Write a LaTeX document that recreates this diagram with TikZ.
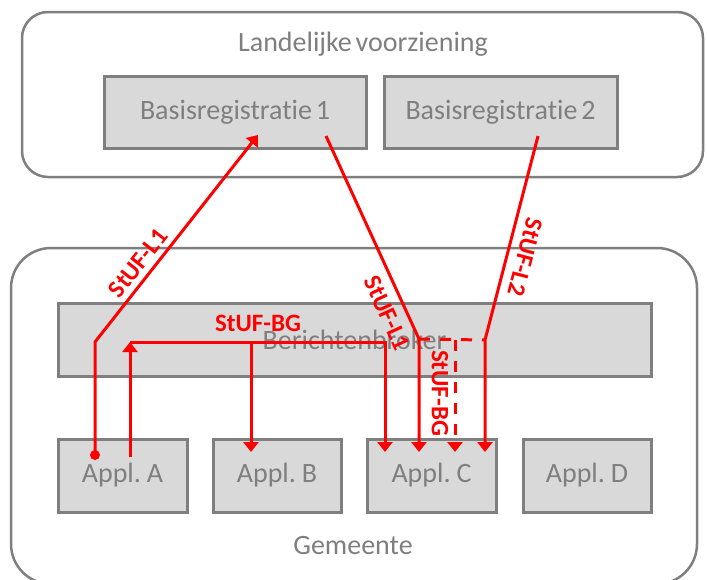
\documentclass[tikz,border=0pt]{standalone}
\usepackage{fontspec}
\setmainfont{Carlito}[Ligatures=NoCommon, WordSpace=0.6]
\usetikzlibrary{arrows.meta}
\definecolor{boxgray}{HTML}{7F7F7F}
\definecolor{boxfill}{HTML}{D9D9D9}
\definecolor{txtgray}{HTML}{7F7F7F}
\definecolor{msgred}{HTML}{FF0000}
\begin{document}
\begin{tikzpicture}[x=1pt,y=-1pt,
  outerbox/.style={draw=boxgray, line width=2.5pt, fill=white, inner sep=0pt},
  sysbox/.style={draw=boxgray, line width=3pt, fill=boxfill, inner sep=0pt,
     text=txtgray, font=\fontsize{28pt}{32pt}\selectfont},
  title/.style={text=txtgray, font=\fontsize{28pt}{32pt}\selectfont, inner sep=0pt},
  msg/.style={draw=msgred, line width=3pt, line join=miter},
  msgarrow/.style={msg, -{Triangle[width=15pt,length=10pt]}},
  msgdash/.style={msg, dash pattern=on 11pt off 10pt},
  msglabel/.style={text=msgred, font=\bfseries\fontsize{25pt}{28pt}\selectfont, inner sep=0pt}
]
\useasboundingbox (0,0) rectangle (707,579);
\clip (0,0) rectangle (707,579);

% outer containers
\node[outerbox, rounded corners=26pt, minimum width=681pt, minimum height=165pt] (lv) at (362.5,94.5) {};
\node[outerbox, rounded corners=40pt, minimum width=686pt, minimum height=336pt] (gm) at (354,416) {};
\node[title] (lvt) at (363,44) {Landelijke voorziening};
\node[title] (gmt) at (353,546) {Gemeente};

% systems
\node[sysbox, minimum width=262pt, minimum height=72pt] (br1) at (235,112) {Basisregistratie 1};
\node[sysbox, minimum width=233pt, minimum height=72pt] (br2) at (500.5,112) {Basisregistratie 2};
\node[sysbox, minimum width=593pt, minimum height=73pt] (bb) at (354.5,339.5) {Berichtenbroker};
\node[sysbox, minimum width=129pt, minimum height=73pt] (aa) at (122.5,475.5) {Appl. A};
\node[sysbox, minimum width=128pt, minimum height=73pt] (ab) at (277,475.5) {Appl. B};
\node[sysbox, minimum width=129pt, minimum height=73pt] (ac) at (431.5,475.5) {Appl. C};
\node[sysbox, minimum width=128pt, minimum height=73pt] (ad) at (587,475.5) {Appl. D};

% connector points
\coordinate (l1start) at (95,455);
\coordinate (l1bend) at (95,342);
\coordinate (l1tip) at (258,135);
\coordinate (bgstart) at (130,457);
\coordinate (bgtip) at (130,342);
\coordinate (bgright) at (385,342);
\coordinate (bgmid) at (251,342);
\coordinate (bgBtip) at (251,452);
\coordinate (bgCtip) at (385,452);
\coordinate (m1start) at (326,136);
\coordinate (m1bend) at (419,339);
\coordinate (m1tip) at (419,452);
\coordinate (m2start) at (538,136);
\coordinate (m2bend) at (485,340);
\coordinate (m2tip) at (485,452);
\coordinate (dsplit) at (455,340);
\coordinate (dtip) at (455,452);

% StUF-L1 from Appl A to Basisregistratie 1
\fill[msgred] (l1start) circle (5pt);
\draw[msgarrow] (l1start) -- (l1bend) -- (l1tip);
% StUF-BG from Appl A via broker
\draw[msgarrow] (bgstart) -- (bgtip);
\draw[msgarrow] (bgtip) -- (bgright) -- (bgCtip);
\draw[msgarrow] (bgmid) -- (bgBtip);
% StUF-L1 from Basisregistratie 1 to Appl C
\draw[msgarrow] (m1start) -- (m1bend) -- (m1tip);
% StUF-L2 from Basisregistratie 2 to Appl C
\draw[msgarrow] (m2start) -- (m2bend) -- (m2tip);
% dashed StUF-BG to Appl C
\draw[msgdash] (m1bend) -- (m2bend);
\draw[msgdash, -{Triangle[width=15pt,length=10pt]}] (dsplit) -- (dtip);

% labels
\node[msglabel, rotate=51.8] (lab1) at (138,263) {StUF-L1};
\node[msglabel] (lab2) at (258,323) {StUF-BG};
\node[msglabel, rotate=-65.3] (lab3) at (387,313) {StUF-L1};
\node[msglabel, rotate=-104.6] (lab4) at (525,257) {StUF-L2};
\node[msglabel, rotate=-90] (lab5) at (440,393) {StUF-BG};
\end{tikzpicture}
\end{document}
